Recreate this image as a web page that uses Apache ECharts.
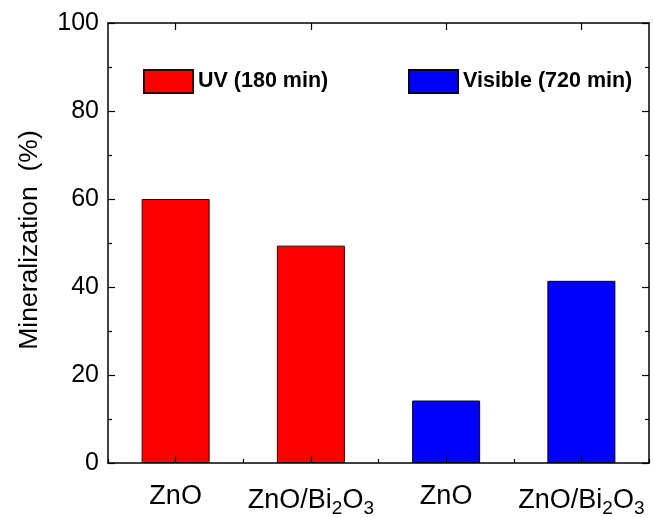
<!DOCTYPE html>
<html>
<head>
<meta charset="utf-8">
<script src="https://cdn.jsdelivr.net/npm/echarts@6/dist/echarts.min.js"></script>
<style>
  html, body { margin: 0; padding: 0; background: #fff; }
  #chart { width: 654px; height: 518px; }
</style>
</head>
<body>
<div id="chart"></div>
<script>
// data
const categories = ["ZnO", "ZnO/Bi2O3", "ZnO", "ZnO/Bi2O3"];
const uvValues = [60.0, 49.4, "-", "-"];
const visibleValues = ["-", "-", 14.2, 41.4];
const seriesNames = ["UV (180 min)", "Visible (720 min)"];
const yTicks = [0, 20, 40, 60, 80, 100];

const chart = echarts.init(document.getElementById("chart"));
const font = "Liberation Sans, Arial, sans-serif";

// subscript the 2 and 3 in Bi2O3
const fmtCat = (v) => {
  if (v === "ZnO/Bi2O3") return "ZnO/Bi{s|2}O{s|3}";
  return v;
};

const tickStyle = { color: "#000", width: 1.2 };

const option = {
  animation: false,
  backgroundColor: "#fff",
  grid: { left: 108, right: 5, top: 23, bottom: 55 },
  legend: [
    {
      data: [seriesNames[0]],
      left: 138, top: 64,
      icon: "rect",
      itemWidth: 49, itemHeight: 23,
      textStyle: { fontFamily: font, fontSize: 21.5, fontWeight: "bold", color: "#000" }
    },
    {
      data: [seriesNames[1]],
      left: 403, top: 64,
      icon: "rect",
      itemWidth: 49, itemHeight: 23,
      textStyle: { fontFamily: font, fontSize: 21.5, fontWeight: "bold", color: "#000" }
    }
  ],
  xAxis: [
    {
      type: "category",
      data: categories,
      position: "bottom",
      z: 5,
      axisLine: { lineStyle: { color: "#000", width: 1.5 } },
      axisTick: { show: true, inside: true, alignWithLabel: true, length: 7, lineStyle: tickStyle },
      axisLabel: {
        interval: 0,
        fontFamily: font, fontSize: 27, color: "#000", margin: 20,
        formatter: fmtCat,
        rich: { s: { fontFamily: font, fontSize: 19, color: "#000", padding: [16, 0, 0, 0] } }
      }
    },
    {
      // minor ticks on category boundaries
      type: "category",
      data: categories,
      position: "bottom",
      z: 5,
      axisLine: { show: false },
      axisTick: { show: true, inside: true, length: 4, lineStyle: tickStyle },
      axisLabel: { show: false }
    },
    {
      type: "category",
      data: categories,
      position: "top",
      z: 5,
      axisLine: { lineStyle: { color: "#000", width: 1.5 } },
      axisTick: { show: true, inside: true, alignWithLabel: true, length: 7, lineStyle: tickStyle },
      axisLabel: { show: false }
    }
  ],
  yAxis: [
    {
      type: "value",
      min: 0, max: 100, interval: 20,
      z: 5,
      name: "Mineralization  (%)",
      nameLocation: "middle",
      nameGap: 65,
      nameTextStyle: { fontFamily: font, fontSize: 26.5, color: "#000", padding: [0, 0, 0, 6] },
      axisLine: { show: true, lineStyle: { color: "#000", width: 1.5 } },
      axisTick: { show: true, inside: true, length: 7, lineStyle: tickStyle },
      minorTick: { show: true, splitNumber: 2, length: 4, lineStyle: tickStyle },
      axisLabel: {
        fontFamily: font, fontSize: 25, color: "#000", margin: 9,
        formatter: (v) => (yTicks.indexOf(v) >= 0 ? String(v) : "")
      },
      splitLine: { show: false }
    },
    {
      type: "value",
      min: 0, max: 100, interval: 20,
      position: "right",
      z: 5,
      axisLine: { show: true, lineStyle: { color: "#000", width: 1.5 } },
      axisTick: { show: true, inside: true, length: 7, lineStyle: tickStyle },
      minorTick: { show: true, splitNumber: 2, length: 4, lineStyle: tickStyle },
      axisLabel: { show: false },
      splitLine: { show: false }
    }
  ],
  series: [
    {
      name: seriesNames[0],
      type: "bar",
      stack: "all",
      barWidth: 68,
      data: uvValues,
      itemStyle: { color: "#ff0000", borderColor: "#300", borderWidth: 1 }
    },
    {
      name: seriesNames[1],
      type: "bar",
      stack: "all",
      barWidth: 68,
      data: visibleValues,
      itemStyle: { color: "#0000ff", borderColor: "#003", borderWidth: 1 }
    }
  ]
};

chart.setOption(option);
</script>
</body>
</html>
